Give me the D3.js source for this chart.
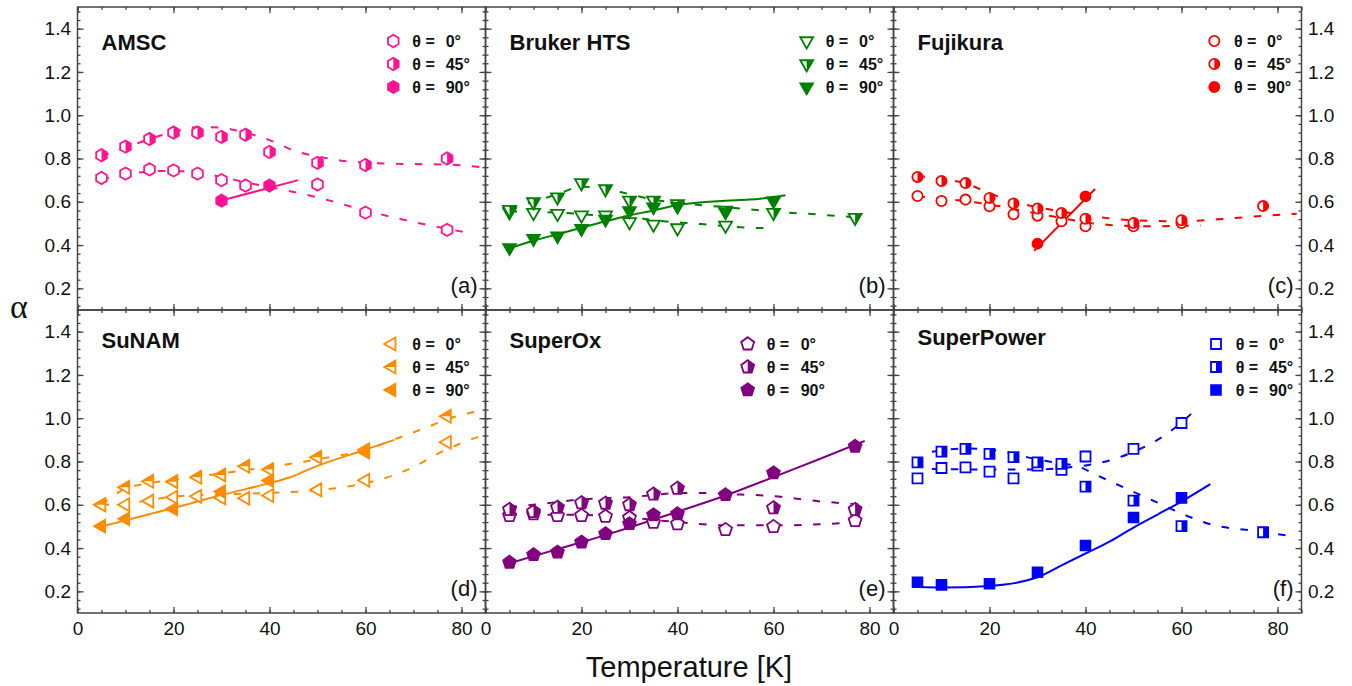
<!DOCTYPE html>
<html>
<head>
<meta charset="utf-8">
<script src="https://cdn.jsdelivr.net/npm/d3@7"></script>
<style>
body { margin: 0; background: #fff; }
svg { display: block; }
</style>
</head>
<body>
<svg id="chart" width="1352" height="686"></svg>
<script>
// panel names, tags and legend labels
var panelNames = ["AMSC", "Bruker HTS", "Fujikura", "SuNAM", "SuperOx", "SuperPower"];
var panelTags = ["(a)", "(b)", "(c)", "(d)", "(e)", "(f)"];
var angleLabels = ["0°", "45°", "90°"];
var xTicks = [0, 20, 40, 60, 80];
var yTicks = [0.2, 0.4, 0.6, 0.8, 1.0, 1.2, 1.4];

// measured alpha vs temperature [K, alpha]
var amsc0 = [[5,0.71],[10,0.73],[15,0.75],[20,0.745],[25,0.73],[30,0.70],[35,0.675],[50,0.68],[60,0.55],[77,0.47]];
var amsc45 = [[5,0.815],[10,0.855],[15,0.89],[20,0.92],[25,0.92],[30,0.90],[35,0.91],[40,0.83],[50,0.78],[60,0.77],[77,0.80]];
var amsc90 = [[30,0.605],[40,0.675]];
var bruker0 = [[5,0.553],[10,0.55],[15,0.545],[20,0.538],[25,0.538],[30,0.507],[35,0.496],[40,0.479],[50,0.491]];
var bruker45 = [[5,0.564],[10,0.599],[15,0.622],[20,0.687],[25,0.659],[30,0.607],[35,0.607],[40,0.59],[50,0.56],[60,0.55],[77,0.527]];
var bruker90 = [[5,0.388],[10,0.43],[15,0.442],[20,0.476],[25,0.519],[30,0.558],[35,0.576],[40,0.579],[50,0.553],[60,0.604]];
var fuji0 = [[5,0.627],[10,0.604],[15,0.61],[20,0.579],[25,0.542],[30,0.536],[35,0.51],[40,0.487],[50,0.487],[60,0.502]];
var fuji45 = [[5,0.715],[10,0.696],[15,0.687],[20,0.618],[25,0.592],[30,0.569],[35,0.548],[40,0.522],[50,0.502],[60,0.515],[77,0.58]];
var fuji90 = [[30,0.407],[40,0.625]];
var sunam0 = [[5,0.60],[10,0.60],[15,0.617],[20,0.635],[25,0.639],[30,0.632],[35,0.63],[40,0.643],[50,0.669],[60,0.713],[77,0.889]];
var sunam45 = [[5,0.60],[10,0.681],[15,0.709],[20,0.707],[25,0.727],[30,0.738],[35,0.778],[40,0.763],[50,0.82],[60,0.854],[77,1.009]];
var sunam90 = [[5,0.501],[10,0.535],[20,0.581],[30,0.661],[40,0.712],[60,0.843]];
var superox0 = [[5,0.55],[10,0.558],[15,0.55],[20,0.55],[25,0.546],[30,0.54],[35,0.519],[40,0.512],[50,0.485],[60,0.499],[77,0.527]];
var superox45 = [[5,0.578],[10,0.568],[15,0.588],[20,0.609],[25,0.607],[30,0.60],[35,0.649],[40,0.676],[60,0.586],[77,0.578]];
var superox90 = [[5,0.334],[10,0.369],[15,0.381],[20,0.427],[25,0.466],[30,0.512],[35,0.553],[40,0.558],[50,0.646],[60,0.747],[77,0.87]];
var spower0 = [[5,0.722],[10,0.77],[15,0.773],[20,0.753],[25,0.722],[30,0.781],[35,0.761],[40,0.823],[50,0.858],[60,0.978]];
var spower45 = [[5,0.796],[10,0.846],[15,0.858],[20,0.835],[25,0.82],[30,0.796],[35,0.789],[40,0.684],[50,0.619],[60,0.501],[77,0.473]];
var spower90 = [[5,0.242],[10,0.23],[20,0.235],[30,0.288],[40,0.412],[50,0.541],[60,0.632]];

// fitted curves
var amscFit0 = [[5,0.705],[10,0.725],[15,0.74],[20,0.743],[25,0.735],[30,0.715],[35,0.69],[43,0.655],[50,0.62],[60,0.56],[66,0.527],[77,0.475],[82,0.455]];
var amscFit45 = [[5,0.81],[10,0.85],[15,0.89],[20,0.922],[25,0.945],[30,0.942],[33,0.93],[40,0.885],[46,0.83],[50,0.81],[55,0.79],[60,0.78],[68,0.775],[77,0.772],[84,0.76]];
var amscFit90 = [[29,0.60],[46,0.70]];
var brukerFit0 = [[5,0.555],[15,0.55],[25,0.535],[30,0.53],[35,0.515],[45,0.497],[55,0.48],[60,0.478]];
var brukerFit45 = [[5,0.57],[10,0.6],[15,0.635],[20,0.67],[25,0.66],[30,0.635],[35,0.61],[40,0.595],[50,0.575],[60,0.555],[70,0.54],[79,0.525]];
var brukerFit90 = [[5,0.385],[10,0.42],[15,0.45],[20,0.48],[25,0.51],[30,0.537],[35,0.56],[40,0.585],[50,0.605],[55,0.61],[62.5,0.63]];
var fujiFit0 = [[5,0.625],[10,0.615],[15,0.603],[20,0.588],[25,0.567],[30,0.545],[35,0.525],[40,0.505],[45,0.493],[50,0.488],[55,0.487],[60,0.489],[64,0.49]];
var fujiFit45 = [[5,0.72],[10,0.705],[15,0.685],[20,0.64],[25,0.60],[30,0.575],[35,0.555],[40,0.537],[50,0.515],[60,0.51],[70,0.523],[77,0.535],[84,0.545]];
var fujiFit90 = [[29.3,0.373],[42,0.659]];
var sunamFit0 = [[5,0.60],[10,0.605],[15,0.622],[20,0.638],[30,0.648],[40,0.655],[50,0.667],[60,0.70],[65,0.73],[70,0.775],[75,0.835],[80,0.885],[85,0.925]];
var sunamFit45 = [[5,0.60],[10,0.675],[15,0.70],[20,0.715],[30,0.745],[40,0.775],[50,0.81],[60,0.855],[67,0.91],[73,0.96],[77,0.995],[85,1.04]];
var sunamFit90 = [[5,0.50],[10,0.528],[20,0.585],[30,0.645],[40,0.70],[44,0.725],[50,0.78],[60,0.855],[66,0.90]];
var superoxFit0 = [[5,0.555],[20,0.553],[30,0.54],[40,0.52],[50,0.505],[60,0.505],[70,0.51],[80,0.525]];
var superoxFit45 = [[5,0.59],[10,0.60],[20,0.625],[30,0.635],[35,0.645],[40,0.655],[45,0.655],[50,0.65],[60,0.64],[70,0.615],[80,0.60]];
var superoxFit90 = [[5,0.33],[15,0.395],[25,0.46],[30,0.495],[40,0.568],[50,0.643],[60,0.728],[70,0.815],[79,0.895]];
var spowerFit0 = [[8,0.765],[20,0.763],[30,0.763],[35,0.77],[40,0.782],[45,0.805],[50,0.845],[55,0.9],[60,0.98],[62,1.02]];
var spowerFit45 = [[8,0.845],[15,0.86],[20,0.855],[30,0.81],[35,0.79],[38,0.78],[43,0.73],[50,0.66],[55,0.61],[61,0.55],[66,0.51],[75,0.48],[83,0.455]];
var spowerFit90 = [[5,0.22],[10,0.218],[20,0.225],[30,0.265],[35,0.32],[40,0.375],[45,0.43],[50,0.495],[55,0.555],[60,0.615],[66,0.695]];

// polygon marker built as a d3 symbol type (size = radius^2)
function polygonSymbol(n, startDeg) {
    return {
        draw: function (ctx, size) {
            var r = Math.sqrt(size);
            for (var i = 0; i < n; i++) {
                var a = (startDeg + i * 360 / n) * Math.PI / 180;
                if (i === 0) ctx.moveTo(r * Math.cos(a), r * Math.sin(a));
                else ctx.lineTo(r * Math.cos(a), r * Math.sin(a));
            }
            ctx.closePath();
        }
    };
}

var panels = [
    {points: [amsc0, amsc45, amsc90], fits: [amscFit0, amscFit45, amscFit90], color: "#ff1493",
     shape: polygonSymbol(6, -90), size: 38, half: "right", legend: [315.8, 334.8, 368.2], titleY: 43},
    {points: [bruker0, bruker45, bruker90], fits: [brukerFit0, brukerFit45, brukerFit90], color: "#008000",
     shape: polygonSymbol(3, 90), size: 56, half: "right", legend: [321.2, 340.2, 373.5], titleY: 43},
    {points: [fuji0, fuji45, fuji90], fits: [fujiFit0, fujiFit45, fujiFit90], color: "#ff0000",
     shape: d3.symbolCircle, size: 82, half: "right", legend: [320.8, 340.5, 373.5], titleY: 43},
    {points: [sunam0, sunam45, sunam90], fits: [sunamFit0, sunamFit45, sunamFit90], color: "#ff8c00",
     shape: polygonSymbol(3, 180), size: 56, half: "top", legend: [314.2, 334.8, 368], titleY: 38},
    {points: [superox0, superox45, superox90], fits: [superoxFit0, superoxFit45, superoxFit90], color: "#800080",
     shape: polygonSymbol(5, -90), size: 46, half: "right", legend: [262.2, 281.2, 315.2], titleY: 38},
    {points: [spower0, spower45, spower90], fits: [spowerFit0, spowerFit45, spowerFit90], color: "#0000ff",
     shape: d3.symbolSquare, size: 100, half: "right", legend: [322.5, 342.2, 375.5], titleY: 34.5}
];

var W = 408, H = 303;
var colX = [77.5, 485.5, 893.5], rowY = [7, 310];
var axisColor = "#444";
var font = "'Liberation Sans', Arial, sans-serif";

var svg = d3.select("#chart");
var defs = svg.append("defs");
defs.append("clipPath").attr("id", "halfright").attr("clipPathUnits", "objectBoundingBox")
    .append("rect").attr("x", 0.5).attr("y", -0.1).attr("width", 0.6).attr("height", 1.2);
defs.append("clipPath").attr("id", "halftop").attr("clipPathUnits", "objectBoundingBox")
    .append("rect").attr("x", -0.1).attr("y", -0.1).attr("width", 1.2).attr("height", 0.6);
defs.append("clipPath").attr("id", "plotarea")
    .append("rect").attr("width", W).attr("height", H);

var x = d3.scaleLinear().domain([0, 85]).range([0, W]);
var y = d3.scaleLinear().domain([0.1, 1.5]).range([H, 0]);
var xMinor = d3.range(0, 86, 5);
var yMinor = d3.range(3, 38).map(function (k) { return k * 0.04; });
var line = d3.line().x(function (d) { return x(d[0]); }).y(function (d) { return y(d[1]); }).curve(d3.curveMonotoneX);

function styleAxis(g) {
    g.select(".domain").remove();
    g.selectAll(".tick line").attr("stroke", axisColor).attr("stroke-width", 1.3);
    g.selectAll(".tick text").attr("fill", "#111");
    g.attr("font-family", font).attr("font-size", 19);
}

function drawMarkers(g, pts, p, kind) {
    var sym = d3.symbol().type(p.shape).size(p.size);
    var m = g.append("g").selectAll("g").data(pts).enter().append("g")
        .attr("transform", function (d) { return "translate(" + x(d[0]) + "," + y(d[1]) + ")"; });
    addMarker(m, sym, p, kind);
}

function addMarker(m, sym, p, kind) {
    if (kind === 2) {
        m.append("path").attr("d", sym).attr("fill", p.color).attr("stroke", p.color).attr("stroke-width", 1.6);
    } else {
        m.append("path").attr("d", sym).attr("fill", "#fff").attr("stroke", p.color).attr("stroke-width", 1.8);
        if (kind === 1) {
            m.append("path").attr("d", sym).attr("fill", p.color)
                .attr("clip-path", p.half === "top" ? "url(#halftop)" : "url(#halfright)");
        }
    }
}

panels.forEach(function (p, i) {
    var col = i % 3, row = Math.floor(i / 3);
    var g = svg.append("g").attr("transform", "translate(" + colX[col] + "," + rowY[row] + ")");

    // fitted lines
    var lines = g.append("g").attr("clip-path", "url(#plotarea)");
    p.fits.forEach(function (f, k) {
        lines.append("path").datum(f).attr("d", line)
            .attr("fill", "none").attr("stroke", p.color).attr("stroke-width", 2)
            .attr("stroke-dasharray", k < 2 ? "7.5,11.5" : null);
    });

    // measured points
    p.points.forEach(function (pts, k) { drawMarkers(g, pts, p, k); });

    // axes: ticks inward on all sides
    var fmtX = row === 1 ? d3.format("d") : function () { return ""; };
    var fmtYL = col === 0 ? d3.format(".1f") : function () { return ""; };
    var fmtYR = col === 2 ? d3.format(".1f") : function () { return ""; };
    var none = function () { return ""; };
    g.append("g").attr("transform", "translate(0," + H + ")")
        .call(d3.axisBottom(x).tickValues(xTicks).tickSize(-6).tickPadding(9).tickFormat(fmtX)).call(styleAxis);
    g.append("g").attr("transform", "translate(0," + H + ")")
        .call(d3.axisBottom(x).tickValues(xMinor).tickSize(-3).tickFormat(none)).call(styleAxis);
    g.append("g").call(d3.axisTop(x).tickValues(xTicks).tickSize(-6).tickFormat(none)).call(styleAxis);
    g.append("g").call(d3.axisTop(x).tickValues(xMinor).tickSize(-3).tickFormat(none)).call(styleAxis);
    g.append("g").call(d3.axisLeft(y).tickValues(yTicks).tickSize(-6).tickPadding(6.5).tickFormat(fmtYL)).call(styleAxis);
    g.append("g").call(d3.axisLeft(y).tickValues(yMinor).tickSize(-3).tickFormat(none)).call(styleAxis);
    g.append("g").attr("transform", "translate(" + W + ",0)")
        .call(d3.axisRight(y).tickValues(yTicks).tickSize(-6).tickPadding(6.5).tickFormat(fmtYR)).call(styleAxis);
    g.append("g").attr("transform", "translate(" + W + ",0)")
        .call(d3.axisRight(y).tickValues(yMinor).tickSize(-3).tickFormat(none)).call(styleAxis);

    g.append("rect").attr("width", W).attr("height", H)
        .attr("fill", "none").attr("stroke", axisColor).attr("stroke-width", 1.5);

    // title and tag
    g.append("text").attr("x", 24).attr("y", p.titleY).text(panelNames[i])
        .attr("font-family", font).attr("font-size", 22).attr("font-weight", "bold").attr("fill", "#111");
    g.append("text").attr("x", W - 8).attr("y", 286).attr("text-anchor", "end").text(panelTags[i])
        .attr("font-family", font).attr("font-size", 22).attr("fill", "#111");

    // legend
    var legY = [34, 57, 80];
    angleLabels.forEach(function (lab, k) {
        var m = g.append("g").attr("transform", "translate(" + p.legend[0] + "," + legY[k] + ")");
        addMarker(m, d3.symbol().type(p.shape).size(p.size), p, k);
        g.append("text").attr("x", p.legend[1]).attr("y", legY[k] + 6).text("θ =")
            .attr("font-family", font).attr("font-size", 16).attr("font-weight", "bold").attr("fill", "#111");
        g.append("text").attr("x", p.legend[2]).attr("y", legY[k] + 6).text(lab)
            .attr("font-family", font).attr("font-size", 16).attr("font-weight", "bold").attr("fill", "#111");
    });
});

svg.append("text").attr("x", 19).attr("y", 318).attr("text-anchor", "middle").text("α")
    .attr("font-family", "'Liberation Serif', 'Times New Roman', serif").attr("font-size", 34).attr("fill", "#111");
svg.append("text").attr("x", 689).attr("y", 677).attr("text-anchor", "middle").text("Temperature [K]")
    .attr("font-family", font).attr("font-size", 29).attr("fill", "#111");
</script>
</body>
</html>
